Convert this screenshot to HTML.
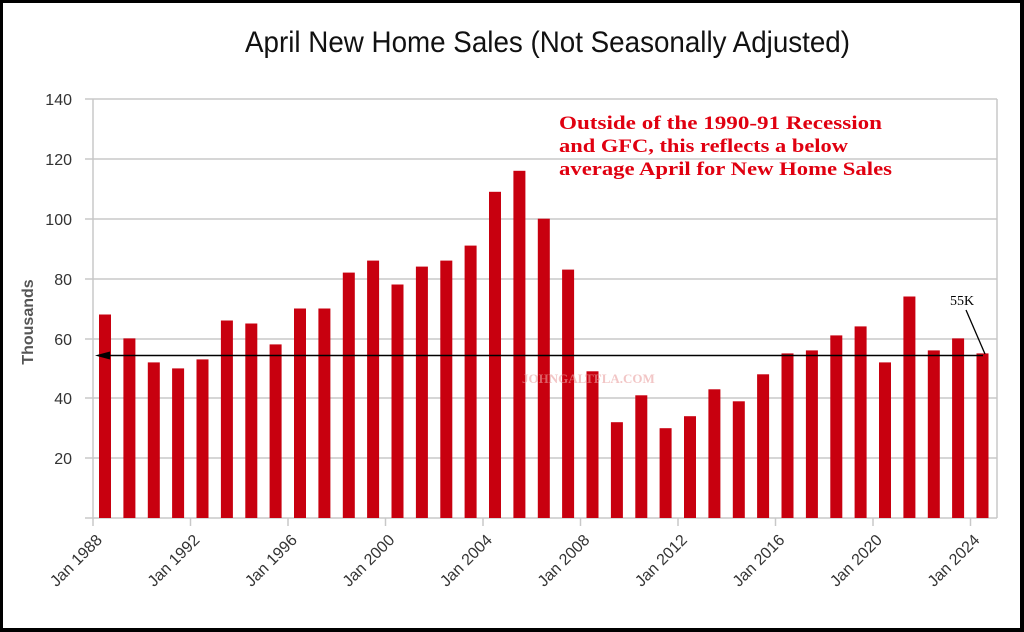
<!DOCTYPE html>
<html><head><meta charset="utf-8"><style>
html,body{margin:0;padding:0;background:#fff}
svg{display:block}
</style></head><body>
<svg width="1024" height="632" viewBox="0 0 1024 632" xmlns="http://www.w3.org/2000/svg">
<rect x="0" y="0" width="1024" height="632" fill="#000"/>
<rect x="3" y="3" width="1017" height="625" fill="#fff"/>
<text x="245" y="52" textLength="605" lengthAdjust="spacingAndGlyphs" font-family="Liberation Sans, sans-serif" font-size="30" fill="#111">April New Home Sales (Not Seasonally Adjusted)</text>
<g stroke="#c8c8c8" stroke-width="1.5">
<line x1="85" y1="99" x2="997" y2="99"/>
<line x1="85" y1="159" x2="997" y2="159"/>
<line x1="85" y1="219" x2="997" y2="219"/>
<line x1="85" y1="279" x2="997" y2="279"/>
<line x1="85" y1="339" x2="997" y2="339"/>
<line x1="85" y1="398" x2="997" y2="398"/>
<line x1="85" y1="458" x2="997" y2="458"/>
<line x1="85" y1="518" x2="997" y2="518"/>
<line x1="93" y1="99" x2="93" y2="526"/>
<line x1="997" y1="99" x2="997" y2="518"/>
<line x1="190.5" y1="518" x2="190.5" y2="526"/>
<line x1="288" y1="518" x2="288" y2="526"/>
<line x1="385.5" y1="518" x2="385.5" y2="526"/>
<line x1="483" y1="518" x2="483" y2="526"/>
<line x1="580.5" y1="518" x2="580.5" y2="526"/>
<line x1="678" y1="518" x2="678" y2="526"/>
<line x1="775.5" y1="518" x2="775.5" y2="526"/>
<line x1="873" y1="518" x2="873" y2="526"/>
<line x1="970.5" y1="518" x2="970.5" y2="526"/>
</g>
<g font-family="Liberation Sans, sans-serif" font-size="16" fill="#333" text-anchor="end">
<text x="72" y="105">140</text><text x="72" y="165">120</text><text x="72" y="225">100</text>
<text x="72" y="285">80</text><text x="72" y="345">60</text><text x="72" y="404">40</text><text x="72" y="464">20</text>
</g>
<text transform="translate(33,322) rotate(-90)" text-anchor="middle" font-family="Liberation Sans, sans-serif" font-size="16" font-weight="bold" fill="#555">Thousands</text>
<g font-family="Liberation Sans, sans-serif" font-size="16" fill="#333" text-anchor="end">
<text transform="translate(103,541) rotate(-45)">Jan 1988</text>
<text transform="translate(200.5,541) rotate(-45)">Jan 1992</text>
<text transform="translate(298,541) rotate(-45)">Jan 1996</text>
<text transform="translate(395.5,541) rotate(-45)">Jan 2000</text>
<text transform="translate(493,541) rotate(-45)">Jan 2004</text>
<text transform="translate(590.5,541) rotate(-45)">Jan 2008</text>
<text transform="translate(688,541) rotate(-45)">Jan 2012</text>
<text transform="translate(785.5,541) rotate(-45)">Jan 2016</text>
<text transform="translate(883,541) rotate(-45)">Jan 2020</text>
<text transform="translate(980.5,541) rotate(-45)">Jan 2024</text>
</g>
<g fill="#c8000f">
<rect x="99.0" y="314.5" width="12" height="203.5"/>
<rect x="123.4" y="338.4" width="12" height="179.6"/>
<rect x="147.8" y="362.4" width="12" height="155.6"/>
<rect x="172.1" y="368.4" width="12" height="149.6"/>
<rect x="196.5" y="359.4" width="12" height="158.6"/>
<rect x="220.9" y="320.5" width="12" height="197.5"/>
<rect x="245.3" y="323.5" width="12" height="194.5"/>
<rect x="269.6" y="344.4" width="12" height="173.6"/>
<rect x="294.0" y="308.5" width="12" height="209.5"/>
<rect x="318.4" y="308.5" width="12" height="209.5"/>
<rect x="342.8" y="272.6" width="12" height="245.4"/>
<rect x="367.1" y="260.6" width="12" height="257.4"/>
<rect x="391.5" y="284.5" width="12" height="233.5"/>
<rect x="415.9" y="266.6" width="12" height="251.4"/>
<rect x="440.3" y="260.6" width="12" height="257.4"/>
<rect x="464.6" y="245.6" width="12" height="272.4"/>
<rect x="489.0" y="191.8" width="12" height="326.2"/>
<rect x="513.4" y="170.8" width="12" height="347.2"/>
<rect x="537.8" y="218.7" width="12" height="299.3"/>
<rect x="562.1" y="269.6" width="12" height="248.4"/>
<rect x="586.5" y="371.3" width="12" height="146.7"/>
<rect x="610.9" y="422.2" width="12" height="95.8"/>
<rect x="635.3" y="395.3" width="12" height="122.7"/>
<rect x="659.6" y="428.2" width="12" height="89.8"/>
<rect x="684.0" y="416.2" width="12" height="101.8"/>
<rect x="708.4" y="389.3" width="12" height="128.7"/>
<rect x="732.8" y="401.3" width="12" height="116.7"/>
<rect x="757.1" y="374.3" width="12" height="143.7"/>
<rect x="781.5" y="353.4" width="12" height="164.6"/>
<rect x="805.9" y="350.4" width="12" height="167.6"/>
<rect x="830.3" y="335.4" width="12" height="182.6"/>
<rect x="854.6" y="326.4" width="12" height="191.6"/>
<rect x="879.0" y="362.4" width="12" height="155.6"/>
<rect x="903.4" y="296.5" width="12" height="221.5"/>
<rect x="927.8" y="350.4" width="12" height="167.6"/>
<rect x="952.1" y="338.4" width="12" height="179.6"/>
<rect x="976.5" y="353.4" width="12" height="164.6"/>
</g>
<text x="522" y="383" font-family="Liberation Serif, serif" font-weight="bold" font-size="13" fill="#e9a0a0" fill-opacity="0.6">JOHNGALTFLA.COM</text>
<g font-family="Liberation Serif, serif" font-weight="bold" font-size="19" fill="#e00010">
<text x="559" y="129" textLength="323" lengthAdjust="spacingAndGlyphs">Outside of the 1990-91 Recession</text>
<text x="559" y="152" textLength="289" lengthAdjust="spacingAndGlyphs">and GFC, this reflects a below</text>
<text x="559" y="175" textLength="333" lengthAdjust="spacingAndGlyphs">average April for New Home Sales</text>
</g>
<line x1="100" y1="355.5" x2="983" y2="355.5" stroke="#000" stroke-width="1.6"/>
<polygon points="95,355.5 110,351.5 110,359.5" fill="#000"/>
<text x="950" y="305" font-family="Liberation Serif, serif" font-size="14" fill="#000">55K</text>
<line x1="966" y1="310" x2="985" y2="354" stroke="#000" stroke-width="1.3"/>
</svg>
</body></html>
